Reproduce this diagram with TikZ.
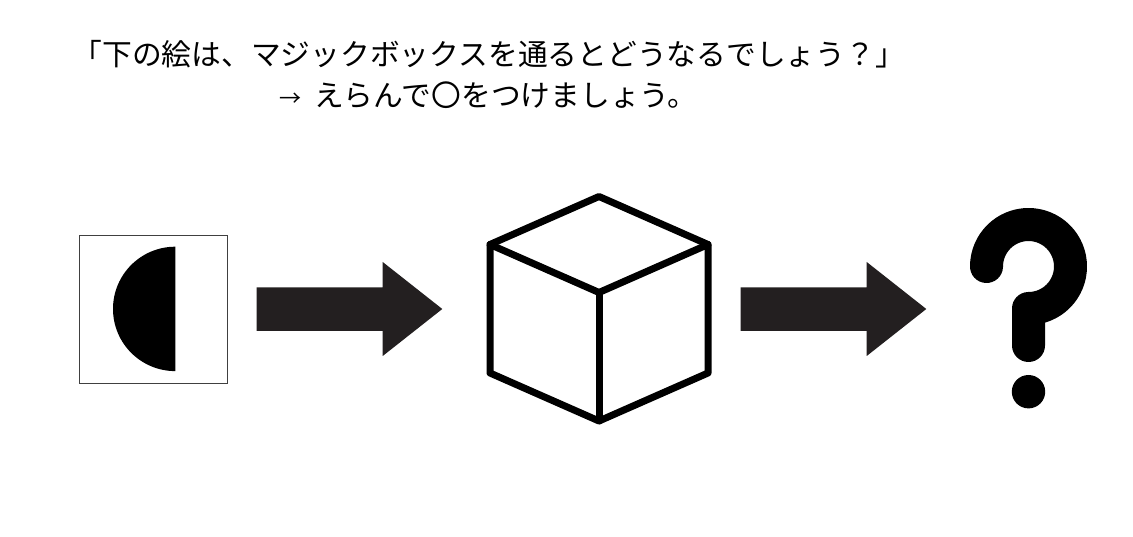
\documentclass[tikz,border=0pt]{standalone}
\usepackage{fontspec}
\setmainfont{Noto Sans CJK JP}
\begin{document}
\begin{tikzpicture}[x=1pt,y=-1pt,
  txt/.style={font=\fontsize{29.75pt}{34pt}\selectfont,anchor=west,inner sep=0pt,text=black},
  arr/.style={fill=arrowc,draw=none},
  cube/.style={draw=black,line width=7pt,line join=round,line cap=round}]
\definecolor{arrowc}{HTML}{231F20}
\definecolor{framec}{HTML}{404040}
\useasboundingbox (0,0) rectangle (1133,537);
\fill[white] (0,0) rectangle (1133,537);
\node[txt] (t1) at (72.5,54) {「下の絵は、マジックボックスを通るとどうなるでしょう？」};
\node[txt] (t2) at (279.5,95.5) {{\fontsize{22pt}{34pt}\selectfont →}\hspace{12.5pt}えらんで〇をつけましょう。};
\draw[framec,line width=0.9pt,fill=white] (79.2,235) rectangle (227.3,383.3);
\fill[black] (175.3,246.7) arc[start angle=-90,end angle=-270,x radius=62.3,y radius=62.2] -- cycle;
\fill[arr] (256.5,287.5) -- (382.7,287.5) -- (382.7,262) -- (442.3,309) -- (382.7,356) -- (382.7,331) -- (256.5,331) -- cycle;
\fill[arr] (740.5,287.5) -- (866.7,287.5) -- (866.7,262) -- (926.3,309) -- (866.7,356) -- (866.7,331) -- (740.5,331) -- cycle;
\draw[cube] (599,196.5) -- (708,244.5) -- (708,373) -- (599,421) -- (490,373) -- (490,244.5) -- cycle;
\draw[cube] (490,244.5) -- (599,292.5) -- (708,244.5);
\draw[cube] (599,292.5) -- (599,421);
\draw[black,line width=33pt,line cap=round,line join=round] (986.5,266.5) arc[start angle=180,end angle=450,radius=42] -- (1028.5,345.5);
\fill[black] (1028.5,391.7) circle (16.7);
\end{tikzpicture}
\end{document}
